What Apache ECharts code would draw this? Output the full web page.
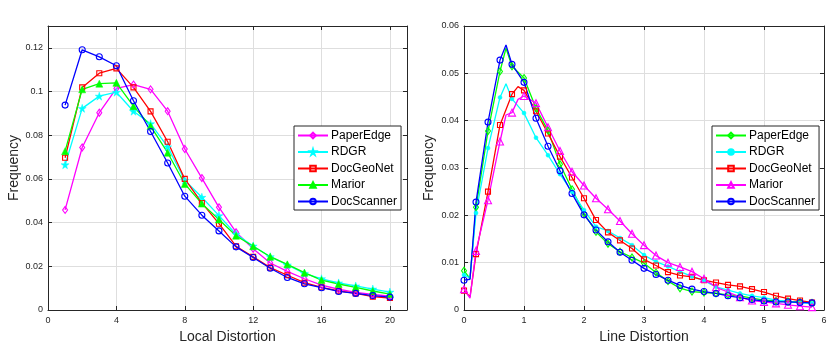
<!DOCTYPE html>
<html>
<head>
<meta charset="utf-8">
<script src="https://cdn.jsdelivr.net/npm/echarts@6.0.0/dist/echarts.min.js"></script>
<style>
  html, body { margin: 0; padding: 0; background: #fff; }
  #chart { width: 830px; height: 349px; }
</style>
</head>
<body>
<div id="chart"></div>
<script>
const methods = ['PaperEdge', 'RDGR', 'DocGeoNet', 'Marior', 'DocScanner'];

// left panel: Local Distortion, x = 1..20
const localX = [1, 2, 3, 4, 5, 6, 7, 8, 9, 10, 11, 12, 13, 14, 15, 16, 17, 18, 19, 20];
const localPaperEdge = [0.0458, 0.0744, 0.0903, 0.1014, 0.1032, 0.1010, 0.0910, 0.0737, 0.0604, 0.0470, 0.0356, 0.0280, 0.0215, 0.0177, 0.0143, 0.0114, 0.0095, 0.0081, 0.0072, 0.0063];
const localRDGR = [0.0665, 0.0923, 0.0979, 0.0997, 0.0910, 0.0853, 0.0747, 0.0594, 0.0516, 0.0432, 0.0347, 0.0293, 0.0244, 0.0206, 0.0168, 0.0143, 0.0124, 0.0110, 0.0096, 0.0082];
const localDocGeoNet = [0.0697, 0.1019, 0.1084, 0.1106, 0.1019, 0.0909, 0.0770, 0.0600, 0.0490, 0.0395, 0.0292, 0.0243, 0.0194, 0.0159, 0.0125, 0.0104, 0.0088, 0.0076, 0.0061, 0.0055];
const localMarior = [0.0727, 0.1010, 0.1036, 0.1040, 0.0933, 0.0842, 0.0720, 0.0577, 0.0487, 0.0414, 0.0340, 0.0292, 0.0244, 0.0209, 0.0171, 0.0137, 0.0119, 0.0104, 0.0087, 0.0073];
const localDocScanner = [0.0938, 0.1191, 0.1159, 0.1118, 0.0958, 0.0817, 0.0673, 0.0521, 0.0434, 0.0362, 0.0289, 0.0240, 0.0191, 0.0149, 0.0120, 0.0102, 0.0085, 0.0076, 0.0066, 0.0059];

// right panel: Line Distortion, markers every 0.2
const lineX = [0, 0.2, 0.4, 0.6, 0.8, 1.0, 1.2, 1.4, 1.6, 1.8, 2.0, 2.2, 2.4, 2.6, 2.8, 3.0, 3.2, 3.4, 3.6, 3.8, 4.0, 4.2, 4.4, 4.6, 4.8, 5.0, 5.2, 5.4, 5.6, 5.8];
const linePaperEdge = [0.0083, 0.0217, 0.0378, 0.0504, 0.0515, 0.0490, 0.0426, 0.0379, 0.0308, 0.0255, 0.0204, 0.0165, 0.0140, 0.0123, 0.0111, 0.0099, 0.0079, 0.0061, 0.0046, 0.0039, 0.0037, 0.0035, 0.0032, 0.0030, 0.0025, 0.0021, 0.0019, 0.0018, 0.0017, 0.0015];
const lineRDGR = [0.0074, 0.0205, 0.0342, 0.0449, 0.0446, 0.0416, 0.0364, 0.0327, 0.0287, 0.0250, 0.0211, 0.0176, 0.0167, 0.0152, 0.0137, 0.0116, 0.0102, 0.0092, 0.0081, 0.0071, 0.0062, 0.0049, 0.0042, 0.0035, 0.0030, 0.0026, 0.0021, 0.0018, 0.0015, 0.0014];
const lineDocGeoNet = [0.0041, 0.0118, 0.0250, 0.0391, 0.0456, 0.0464, 0.0420, 0.0373, 0.0324, 0.0280, 0.0236, 0.0190, 0.0164, 0.0147, 0.0130, 0.0107, 0.0094, 0.0080, 0.0073, 0.0070, 0.0063, 0.0058, 0.0053, 0.0050, 0.0044, 0.0038, 0.0030, 0.0024, 0.0020, 0.0016];
const lineMarior = [0.0044, 0.0125, 0.0232, 0.0356, 0.0417, 0.0452, 0.0437, 0.0386, 0.0336, 0.0292, 0.0263, 0.0236, 0.0213, 0.0188, 0.0161, 0.0137, 0.0115, 0.0100, 0.0091, 0.0081, 0.0066, 0.0048, 0.0038, 0.0027, 0.0020, 0.0017, 0.0014, 0.0011, 0.0008, 0.0006];
const lineDocScanner = [0.0063, 0.0228, 0.0397, 0.0528, 0.0519, 0.0481, 0.0405, 0.0346, 0.0294, 0.0246, 0.0201, 0.0169, 0.0144, 0.0122, 0.0105, 0.0088, 0.0075, 0.0063, 0.0052, 0.0044, 0.0039, 0.0035, 0.0030, 0.0026, 0.0022, 0.0019, 0.0017, 0.0017, 0.0016, 0.0015];
// vertices between markers (drawn without marker)
const lineKinkPaperEdge = [[0.1, 0.0066], [0.7, 0.0553]];
const lineKinkRDGR = [[0.1, 0.0068], [0.7, 0.0478]];
const lineKinkDocGeoNet = [[0.1, 0.0028], [0.9, 0.0472]];
const lineKinkMarior = [[0.1, 0.0025], [0.7, 0.0412], [0.9, 0.0445]];
const lineKinkDocScanner = [[0.1, 0.0065], [0.7, 0.0560]];

const STAR = 'path://M50,0 L61,35 L98,35 L68,57 L79,91 L50,70 L21,91 L32,57 L2,35 L39,35 Z';
const FONT = '"Liberation Sans", Arial, Helvetica, sans-serif';
const INK = '#262626';

// open markers get a transparent face, like matlab
const leftStyle = {
  PaperEdge: { color: '#ff00ff', symbol: 'diamond', size: [5, 7], open: true },
  RDGR: { color: '#00ffff', symbol: STAR, size: 8, open: false },
  DocGeoNet: { color: '#ff0000', symbol: 'rect', size: 5, open: true },
  Marior: { color: '#00ff00', symbol: 'triangle', size: 7, open: false },
  DocScanner: { color: '#0000ff', symbol: 'circle', size: 6, open: true }
};
const rightStyle = {
  PaperEdge: { color: '#00ff00', symbol: 'diamond', size: [5, 7], open: true },
  RDGR: { color: '#00ffff', symbol: 'circle', size: 4, open: false },
  DocGeoNet: { color: '#ff0000', symbol: 'rect', size: 5, open: true },
  Marior: { color: '#ff00ff', symbol: 'triangle', size: 7, open: true },
  DocScanner: { color: '#0000ff', symbol: 'circle', size: 6, open: true }
};

const localData = { PaperEdge: localPaperEdge, RDGR: localRDGR, DocGeoNet: localDocGeoNet, Marior: localMarior, DocScanner: localDocScanner };
const lineData = { PaperEdge: linePaperEdge, RDGR: lineRDGR, DocGeoNet: lineDocGeoNet, Marior: lineMarior, DocScanner: lineDocScanner };
const lineKinks = { PaperEdge: lineKinkPaperEdge, RDGR: lineKinkRDGR, DocGeoNet: lineKinkDocGeoNet, Marior: lineKinkMarior, DocScanner: lineKinkDocScanner };

function pairs(xs, ys) {
  return xs.map((x, i) => [x, ys[i]]);
}

function withKinks(xs, ys, kinks) {
  const pts = pairs(xs, ys).concat(kinks.map(k => ({ value: k, symbol: 'none' })));
  const xOf = p => (Array.isArray(p) ? p[0] : p.value[0]);
  return pts.sort((a, b) => xOf(a) - xOf(b));
}

function makeSeries(prefix, name, st, data, axis) {
  return {
    name: prefix + name,
    type: 'line',
    xAxisIndex: axis,
    yAxisIndex: axis,
    data: data,
    symbol: st.symbol,
    symbolSize: st.size,
    showAllSymbol: true,
    lineStyle: { color: st.color, width: 1.3 },
    itemStyle: {
      color: st.open ? 'rgba(255,255,255,0)' : st.color,
      borderColor: st.color,
      borderWidth: st.open ? 1.1 : 0.5
    },
    emphasis: { disabled: true }
  };
}

const series = [];
methods.forEach(m => series.push(makeSeries('L:', m, leftStyle[m], pairs(localX, localData[m]), 0)));
methods.forEach(m => series.push(makeSeries('R:', m, rightStyle[m], withKinks(lineX, lineData[m], lineKinks[m]), 2)));

function mainX(grid, min, max, interval, name) {
  return {
    type: 'value', gridIndex: grid, min: min, max: max, interval: interval, position: 'bottom',
    name: name, nameLocation: 'middle', nameGap: 20,
    nameTextStyle: { color: INK, fontSize: 14, fontFamily: FONT },
    axisLine: { show: true, lineStyle: { color: INK, width: 1 } },
    axisTick: { show: true, inside: true, length: 4, lineStyle: { color: INK } },
    axisLabel: { color: INK, fontSize: 9, fontFamily: FONT, margin: 6, showMaxLabel: max % interval === 0 },
    splitLine: { show: true, lineStyle: { color: '#dedede', width: 1 } }
  };
}
function mainY(grid, min, max, interval, gap) {
  return {
    type: 'value', gridIndex: grid, min: min, max: max, interval: interval, position: 'left',
    name: 'Frequency', nameLocation: 'middle', nameGap: gap,
    nameTextStyle: { color: INK, fontSize: 14, fontFamily: FONT },
    axisLine: { show: true, lineStyle: { color: INK, width: 1 } },
    axisTick: { show: true, inside: true, length: 4, lineStyle: { color: INK } },
    axisLabel: { color: INK, fontSize: 9, fontFamily: FONT, margin: 5, showMaxLabel: Math.abs(max / interval - Math.round(max / interval)) < 1e-6 },
    splitLine: { show: true, lineStyle: { color: '#dedede', width: 1 } }
  };
}
function frameAxis(kind, grid, min, max, interval) {
  return {
    type: 'value', gridIndex: grid, min: min, max: max, interval: interval,
    position: kind === 'x' ? 'top' : 'right',
    axisLine: { show: true, onZero: false, lineStyle: { color: INK, width: 1 } },
    axisTick: { show: true, inside: true, length: 4, lineStyle: { color: INK } },
    axisLabel: { show: false },
    splitLine: { show: false }
  };
}

function legendFor(prefix, left) {
  return {
    data: methods.map(m => prefix + m),
    orient: 'vertical',
    left: left, top: 126,
    formatter: n => n.slice(2),
    itemWidth: 30, itemHeight: 7, itemGap: 3.5,
    padding: [3, 4, 2, 3],
    backgroundColor: '#fff',
    borderColor: INK, borderWidth: 1, borderRadius: 0,
    textStyle: { color: '#000', fontSize: 12, lineHeight: 13, fontFamily: FONT, padding: [0, 0, 0, -2] },
    selectedMode: false
  };
}

const option = {
  animation: false,
  backgroundColor: '#fff',
  grid: [
    { left: 48, right: 423, top: 26, bottom: 39 },
    { left: 464, right: 6, top: 26, bottom: 39 }
  ],
  xAxis: [
    mainX(0, 0, 21, 4, 'Local Distortion'),
    frameAxis('x', 0, 0, 21, 4),
    mainX(1, 0, 6, 1, 'Line Distortion'),
    frameAxis('x', 1, 0, 6, 1)
  ],
  yAxis: [
    mainY(0, 0, 0.13, 0.02, 26),
    frameAxis('y', 0, 0, 0.13, 0.02),
    mainY(1, 0, 0.06, 0.01, 28),
    frameAxis('y', 1, 0, 0.06, 0.01)
  ],
  legend: [legendFor('L:', 294), legendFor('R:', 712)],
  series: series
};

const chart = echarts.init(document.getElementById('chart'), null, { renderer: 'canvas' });
chart.setOption(option);
</script>
</body>
</html>
